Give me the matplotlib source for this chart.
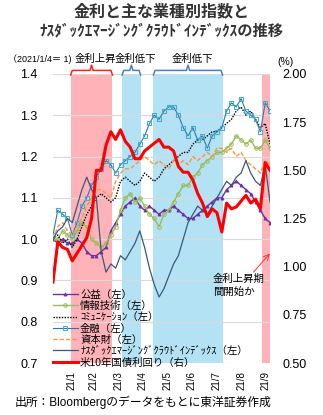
import matplotlib
matplotlib.use('Agg')
import matplotlib.pyplot as plt
import matplotlib.dates as mdates
import matplotlib.transforms as mtransforms
import pandas as pd

plt.rcParams['font.family'] = ['Liberation Sans', 'Noto Sans CJK JP']

# sample dates (every 6 days from 2021/1/4)
dates = pd.date_range('2021-01-04', periods=46, freq='6D')

# index values, 2021/1/4 = 1 (left axis)
utilities = [1.00, 0.99, 1.00, 0.99, 0.99, 1.00, 0.99, 0.97, 0.96, 0.96,
             0.97, 0.98, 1.02, 1.04, 1.06, 1.08, 1.09, 1.10, 1.08, 1.07,
             1.08, 1.07, 1.06, 1.07, 1.07, 1.08, 1.07, 1.06, 1.05, 1.05,
             1.06, 1.07, 1.08, 1.09, 1.10, 1.10, 1.12, 1.13, 1.14, 1.13,
             1.12, 1.11, 1.09, 1.07, 1.05, 1.04]
info_tech = [1.00, 1.00, 1.02, 1.01, 1.00, 1.02, 1.04, 1.03, 1.00, 0.99,
             0.98, 0.99, 1.01, 1.03, 1.07, 1.10, 1.11, 1.09, 1.10, 1.08,
             1.06, 1.05, 1.03, 1.06, 1.07, 1.09, 1.11, 1.13, 1.13, 1.15,
             1.16, 1.18, 1.19, 1.20, 1.21, 1.21, 1.22, 1.23, 1.25, 1.24,
             1.23, 1.24, 1.22, 1.22, 1.24, 1.22]
communication = [1.00, 1.01, 0.99, 1.00, 0.98, 1.00, 1.03, 1.06, 1.08, 1.10,
                 1.11, 1.10, 1.09, 1.10, 1.14, 1.15, 1.14, 1.13, 1.14, 1.16,
                 1.15, 1.14, 1.15, 1.17, 1.18, 1.19, 1.20, 1.21, 1.21, 1.23,
                 1.24, 1.24, 1.25, 1.26, 1.26, 1.27, 1.28, 1.29, 1.31, 1.32,
                 1.30, 1.31, 1.29, 1.27, 1.28, 1.23]
financials = [1.01, 1.07, 1.06, 1.05, 1.01, 1.04, 1.08, 1.10, 1.13, 1.15,
              1.17, 1.19, 1.18, 1.16, 1.18, 1.19, 1.20, 1.21, 1.23, 1.25,
              1.28, 1.30, 1.29, 1.31, 1.32, 1.32, 1.30, 1.27, 1.25, 1.27,
              1.24, 1.25, 1.22, 1.25, 1.26, 1.27, 1.31, 1.33, 1.32, 1.34,
              1.31, 1.30, 1.29, 1.26, 1.33, 1.31]
industrials = [1.00, 1.03, 1.04, 1.02, 1.01, 1.03, 1.05, 1.08, 1.10, 1.12,
               1.12, 1.11, 1.10, 1.14, 1.16, 1.17, 1.17, 1.18, 1.19, 1.20,
               1.19, 1.18, 1.19, 1.18, 1.17, 1.19, 1.18, 1.19, 1.18, 1.20,
               1.19, 1.20, 1.21, 1.20, 1.22, 1.22, 1.21, 1.22, 1.20, 1.21,
               1.19, 1.18, 1.17, 1.16, 1.19, 1.18]
nasdaq_cloud = [1.00, 1.02, 1.03, 1.05, 1.04, 1.08, 1.12, 1.15, 1.12, 1.10,
                0.97, 0.92, 0.94, 0.93, 0.96, 0.95, 0.97, 0.99, 1.02, 0.98,
                0.93, 0.89, 0.86, 0.88, 0.91, 0.94, 0.96, 1.00, 1.04, 1.06,
                1.08, 1.07, 1.06, 1.08, 1.10, 1.12, 1.14, 1.13, 1.15, 1.16,
                1.19, 1.16, 1.14, 1.13, 1.18, 1.09]
# US 10y yield, % (right axis)
us10y = [0.92, 1.13, 1.10, 1.09, 1.03, 1.07, 1.11, 1.15, 1.25, 1.50,
         1.50, 1.63, 1.70, 1.66, 1.71, 1.65, 1.62, 1.56, 1.56, 1.60,
         1.62, 1.64, 1.66, 1.62, 1.62, 1.60, 1.52, 1.49, 1.49, 1.45,
         1.38, 1.33, 1.26, 1.30, 1.28, 1.18, 1.33, 1.30, 1.31, 1.34,
         1.37, 1.33, 1.35, 1.30, 1.54, 1.50]

labels = ['公益（左）', '情報技術（左）', 'ｺﾐｭﾆｹｰｼｮﾝ（左）', '金融（左）',
          '資本財（左）', 'ﾅｽﾀﾞｯｸｴﾏｰｼﾞﾝｸﾞｸﾗｳﾄﾞｲﾝﾃﾞｯｸｽ（左）', '米10年国債利回り（右）']

# rate phases: (start, end, kind)
phases = [('2021-01-26', '2021-03-19', 'up'),
          ('2021-03-31', '2021-04-23', 'down'),
          ('2021-05-09', '2021-08-03', 'down'),
          ('2021-09-21', '2021-10-01', 'up')]
phase_labels = {0: '金利上昇', 1: '金利低下', 2: '金利低下'}

tick_dates = pd.date_range('2021-01-31', periods=9, freq='ME') - pd.Timedelta(days=4)
tick_labels = ['21/1', '21/2', '21/3', '21/4', '21/5', '21/6', '21/7', '21/8', '21/9']

fig = plt.figure(figsize=(3.23, 4.15), dpi=100)
ax = fig.add_axes([0.164, 0.125, 0.672, 0.697])
ax2 = ax.twinx()

for start, end, kind in phases:
    ax.axvspan(pd.Timestamp(start), pd.Timestamp(end),
               color='#FFB3B8' if kind == 'up' else '#B3E2F5', lw=0, zorder=0)

l1, = ax.plot(dates, utilities, color='#7030A0', lw=1, marker='^', ms=2.2,
              mew=0.6, zorder=3)
l2, = ax.plot(dates, info_tech, color='#9BBB59', lw=1, marker='o', ms=2.6,
              mfc='none', mew=0.7, zorder=3)
l3, = ax.plot(dates, communication, color='black', lw=1, ls=(0, (1, 1)), zorder=3)
l4, = ax.plot(dates, financials, color='#2E75B6', lw=0.8, marker='s', ms=2.6,
              mfc='none', mec='#4BACC6', mew=0.8, zorder=3)
l5, = ax.plot(dates, industrials, color='#F79646', lw=1, ls=(0, (3, 1.5)), zorder=3)
l6, = ax.plot(dates, nasdaq_cloud, color='#3B5878', lw=0.9, zorder=3)
l7, = ax2.plot(dates, us10y, color='#FF0000', lw=2.2, zorder=4)

ax.set_ylim(0.7, 1.4)
ax.set_yticks([0.7, 0.8, 0.9, 1.0, 1.1, 1.2, 1.3, 1.4])
ax.set_yticklabels(['0.7', '0.8', '0.9', '1.0', '1.1', '1.2', '1.3', '1.4'])
ax2.set_ylim(0.5, 2.0)
ax2.set_yticks([0.5, 0.75, 1.0, 1.25, 1.5, 1.75, 2.0])
ax2.set_yticklabels(['0.50', '0.75', '1.00', '1.25', '1.50', '1.75', '2.00'])
ax.set_xlim(pd.Timestamp('2021-01-04'), pd.Timestamp('2021-10-01'))
ax.set_xticks(tick_dates)
ax.set_xticklabels(tick_labels, rotation=90, fontsize=7)

ax.grid(axis='y', color='#D9D9D9', lw=0.8)
ax.set_axisbelow(True)
for a in (ax, ax2):
    for s in a.spines.values():
        s.set_visible(False)
ax.tick_params(axis='y', length=0, pad=11, labelsize=9)
ax2.tick_params(axis='y', length=0, pad=9, labelsize=9)
ax.tick_params(axis='x', length=0, pad=6)

# brackets over the phases
trans = mtransforms.blended_transform_factory(ax.transData, ax.transAxes)
for i, (start, end, kind) in enumerate(phases[:3]):
    x0 = mdates.date2num(pd.Timestamp(start))
    x1 = mdates.date2num(pd.Timestamp(end))
    xm = (x0 + x1) / 2
    d = 2
    col = '#FF2020' if kind == 'up' else '#4F7FC0'
    ax.plot([x0, x0 + d, xm - d, xm, xm + d, x1 - d, x1],
            [0.996, 1.012, 1.012, 1.03, 1.012, 1.012, 0.996],
            color=col, lw=1.1, transform=trans, clip_on=False)
    ax.text(xm + 5, 1.052, phase_labels[i], transform=trans, ha='center',
            va='center', fontsize=7.5)

fig.text(0.025, 0.858, '（2021/1/4＝ 1)', fontsize=6.5, va='center')
fig.text(0.885, 0.851, '(%)', fontsize=7.5, va='center', ha='center')

fig.text(0.5, 0.972, '金利と主な業種別指数と', fontsize=11.5, weight='bold',
         ha='center', va='center', color='#333333')
fig.text(0.5, 0.925, 'ﾅｽﾀﾞｯｸｴﾏｰｼﾞﾝｸﾞｸﾗｳﾄﾞｲﾝﾃﾞｯｸｽの推移', fontsize=11, weight='bold',
         ha='center', va='center', color='#333333')

ax.annotate('', xy=(pd.Timestamp('2021-10-03'), 0.97),
            xytext=(pd.Timestamp('2021-09-08'), 0.915),
            arrowprops=dict(arrowstyle='->', color='#FF3030', lw=0.7),
            annotation_clip=False)
ax.text(pd.Timestamp('2021-07-22'), 0.915, '金利上昇期\n間開始か', fontsize=7.5,
        va='top', linespacing=1.3)

leg = ax2.legend([l1, l2, l3, l4, l5, l6, l7], labels, loc='lower left',
                 bbox_to_anchor=(0, -0.015), frameon=False, fontsize=7.5,
                 handlelength=2.4, handletextpad=0.2, labelspacing=0.12,
                 borderpad=0, borderaxespad=0, numpoints=1)

fig.text(0.045, 0.03, '出所：Bloombergのデータをもとに東洋証券作成', fontsize=8.5, va='center')

fig.savefig('out.png', dpi=100)
